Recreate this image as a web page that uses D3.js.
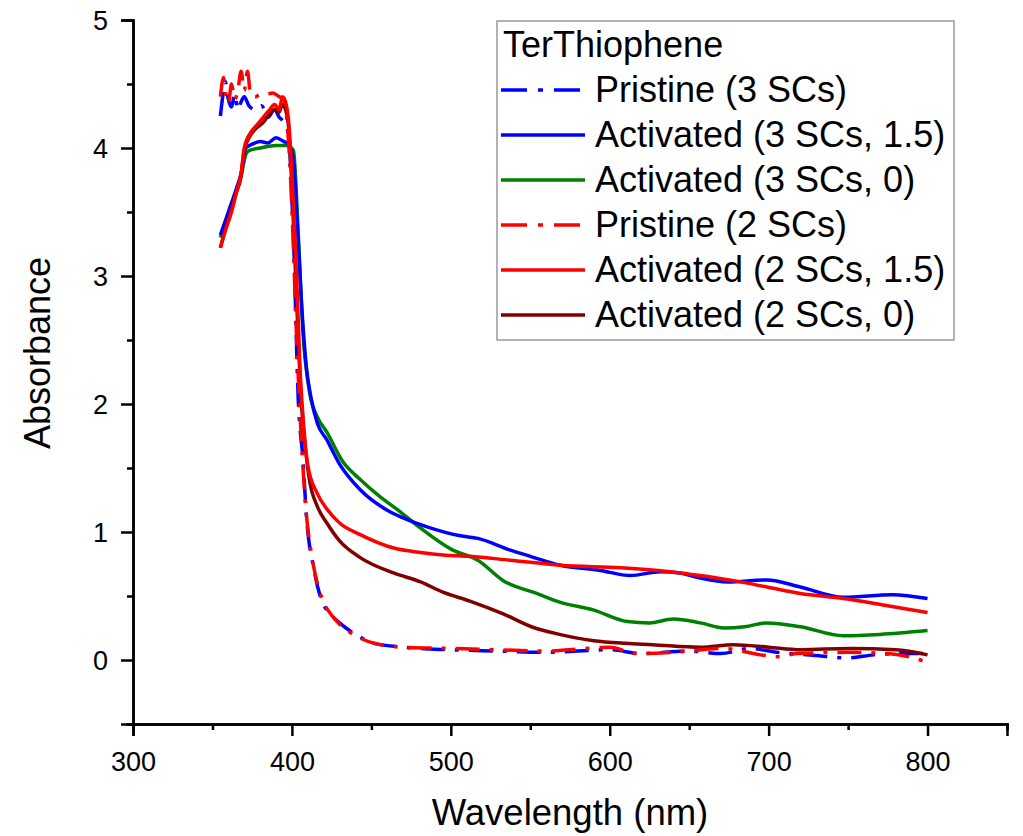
<!DOCTYPE html>
<html>
<head>
<meta charset="utf-8">
<script src="https://cdn.jsdelivr.net/npm/d3@7"></script>
<style>
  body { margin: 0; background: #fff; }
  text { font-family: "Liberation Sans", Arial, sans-serif; fill: #000; }
</style>
</head>
<body>
<script>
// absorbance spectra, values (wavelength nm, absorbance)
var pristine3 = [[355,4.25],[357,4.45],[358,4.52],[360,4.38],[362,4.32],[364,4.42],[366,4.3],[368,4.36],[370,4.4],[373,4.33],[377,4.3],[381,4.33],[385,4.24],[389,4.3],[392,4.24],[395,4.2],[398,4.1],[400,3.6],[401,3.3],[404,2.03],[407,1.56],[409,1.15],[414,0.7],[418,0.49],[425,0.35],[430,0.29],[440,0.2],[452,0.13],[470,0.1],[500,0.08],[530,0.07],[560,0.06],[600,0.08],[620,0.05],[650,0.07],[670,0.05],[688,0.09],[705,0.06],[726,0.04],[750,0.016],[766,0.04],[785,0.05],[800,0.05]];
var activ3_15 = [[355,3.32],[360,3.5],[365,3.68],[368,3.8],[371,4.0],[375,4.03],[380,4.05],[385,4.04],[390,4.08],[395,4.05],[398,4.03],[401,3.9],[403,3.5],[406,2.8],[409,2.3],[412,2.05],[416,1.85],[422,1.72],[430,1.53],[443,1.33],[460,1.17],[470,1.11],[485,1.04],[506,0.97],[517,0.95],[537,0.86],[550,0.81],[569,0.74],[594,0.7],[613,0.66],[632,0.69],[644,0.68],[657,0.64],[674,0.61],[699,0.625],[720,0.57],[747,0.49],[778,0.51],[800,0.48]];
var activ3_0 = [[355,3.3],[360,3.48],[365,3.66],[368,3.78],[371,3.95],[373,3.98],[380,4.0],[390,4.02],[397,4.02],[401,3.98],[404,3.33],[407,2.55],[411,2.1],[416,1.9],[422,1.78],[432,1.55],[443,1.41],[455,1.28],[468,1.16],[481,1.03],[501,0.86],[517,0.78],[533,0.62],[554,0.52],[569,0.45],[590,0.39],[611,0.3],[625,0.29],[640,0.32],[657,0.29],[672,0.25],[685,0.26],[699,0.29],[720,0.26],[747,0.19],[770,0.2],[800,0.23]];
var pristine2 = [[355,4.4],[357,4.55],[358,4.45],[360,4.35],[362,4.5],[364,4.38],[366,4.45],[368,4.6],[370,4.45],[372,4.6],[374,4.42],[377,4.4],[380,4.42],[384,4.42],[388,4.43],[392,4.4],[395,4.38],[397,4.2],[399,3.8],[401,3.2],[403,2.5],[405,1.95],[407,1.5],[409,1.15],[412,0.85],[415,0.65],[419,0.48],[425,0.35],[430,0.28],[440,0.19],[452,0.13],[470,0.1],[500,0.09],[530,0.08],[560,0.07],[600,0.1],[617,0.05],[640,0.06],[672,0.09],[695,0.04],[705,0.025],[718,0.05],[750,0.06],[775,0.05],[790,0.02],[800,-0.02]];
var activ2_15 = [[355,3.22],[358,3.35],[362,3.5],[365,3.65],[368,3.8],[370,4.0],[374,4.12],[378,4.18],[382,4.24],[386,4.3],[389,4.34],[392,4.3],[394,4.4],[396,4.36],[398,4.2],[400,3.8],[403,3.0],[405,2.3],[407,1.9],[410,1.52],[416,1.3],[422,1.18],[430,1.07],[443,0.98],[464,0.875],[481,0.84],[495,0.82],[512,0.81],[537,0.78],[569,0.74],[607,0.72],[638,0.69],[657,0.66],[678,0.62],[699,0.57],[720,0.52],[747,0.48],[772,0.43],[800,0.37]];
var activ2_0 = [[355,3.22],[358,3.36],[362,3.52],[365,3.65],[368,3.78],[370,3.98],[374,4.1],[378,4.16],[382,4.2],[386,4.27],[389,4.3],[392,4.28],[394,4.34],[396,4.3],[398,4.15],[400,3.7],[403,2.8],[406,2.0],[409,1.6],[411,1.41],[416,1.2],[422,1.07],[430,0.93],[443,0.8],[464,0.68],[481,0.61],[495,0.53],[512,0.46],[533,0.36],[553,0.25],[565,0.21],[590,0.15],[610,0.13],[627,0.12],[657,0.1],[678,0.12],[700,0.1],[720,0.08],[751,0.09],[780,0.08],[800,0.04]];

var names = ["Pristine (3 SCs)", "Activated (3 SCs, 1.5)", "Activated (3 SCs, 0)",
             "Pristine (2 SCs)", "Activated (2 SCs, 1.5)", "Activated (2 SCs, 0)"];
var colors = ["#0000ff", "#0000ff", "#008000", "#ff0000", "#ff0000", "#800000"];
var dashed = [true, false, false, true, false, false];
var seriesData = [pristine3, activ3_15, activ3_0, pristine2, activ2_15, activ2_0];
// draw order: later ones end up on top
var drawOrder = [2, 1, 0, 5, 4, 3];

var W = 1023, H = 836;
var plotL = 133, plotR = 1007, plotT = 20, plotB = 724;

var svg = d3.select("body").append("svg")
  .attr("width", W).attr("height", H);

var x = d3.scaleLinear().domain([300, 850]).range([plotL, plotR]);
var y = d3.scaleLinear().domain([-0.5, 5]).range([plotB, plotT]);

var line = d3.line()
  .x(function(d) { return x(d[0]); })
  .y(function(d) { return y(d[1]); })
  .curve(d3.curveMonotoneX);

drawOrder.forEach(function(i) {
  svg.append("path")
    .datum(seriesData[i])
    .attr("d", line)
    .attr("fill", "none")
    .attr("stroke", colors[i])
    .attr("stroke-width", 3.5)
    .attr("stroke-linejoin", "round")
    .attr("stroke-dasharray", dashed[i] ? "24,10,4,10" : null);
});

// x axis, major and minor ticks
var xAxis = svg.append("g").attr("transform", "translate(0," + plotB + ")");
xAxis.call(d3.axisBottom(x).tickValues(d3.range(350, 851, 100)).tickSize(6).tickFormat(""));
xAxis.append("g").call(d3.axisBottom(x).tickValues(d3.range(300, 801, 100)).tickSize(12).tickFormat(d3.format("d")));
// y axis
var yAxis = svg.append("g").attr("transform", "translate(" + plotL + ",0)");
yAxis.call(d3.axisLeft(y).tickValues(d3.range(-0.5, 5, 1)).tickSize(6).tickFormat(""));
yAxis.append("g").call(d3.axisLeft(y).tickValues(d3.range(0, 6, 1)).tickSize(12).tickFormat(d3.format("d")));

svg.selectAll(".domain").attr("stroke", "#000").attr("stroke-width", 2.5);
svg.selectAll(".tick line").attr("stroke", "#000").attr("stroke-width", 2.5);
xAxis.selectAll(".tick text").attr("font-size", 27).attr("dy", 0).attr("y", 47)
  .style("font-family", "Liberation Sans, Arial, sans-serif");
yAxis.selectAll(".tick text").attr("font-size", 27).attr("x", -25).attr("dy", "0.36em")
  .style("font-family", "Liberation Sans, Arial, sans-serif");

svg.append("text")
  .attr("x", (plotL + plotR) / 2).attr("y", 825)
  .attr("text-anchor", "middle").attr("font-size", 36.5)
  .text("Wavelength (nm)");

svg.append("text")
  .attr("transform", "translate(50,353) rotate(-90)")
  .attr("text-anchor", "middle").attr("font-size", 36)
  .text("Absorbance");

// legend
var lg = svg.append("g");
lg.append("rect")
  .attr("x", 497).attr("y", 21).attr("width", 457).attr("height", 319)
  .attr("fill", "#fff").attr("stroke", "#999").attr("stroke-width", 1.5);
lg.append("text").attr("x", 503).attr("y", 57).attr("font-size", 36).text("TerThiophene");
names.forEach(function(n, i) {
  var cy = 90 + i * 45;
  lg.append("line")
    .attr("x1", 501).attr("x2", 585).attr("y1", cy).attr("y2", cy)
    .attr("stroke", colors[i]).attr("stroke-width", 3.5)
    .attr("stroke-dasharray", dashed[i] ? "26,11,5,11" : null);
  lg.append("text").attr("x", 595).attr("y", cy + 12).attr("font-size", 36).text(n);
});
</script>
</body>
</html>
